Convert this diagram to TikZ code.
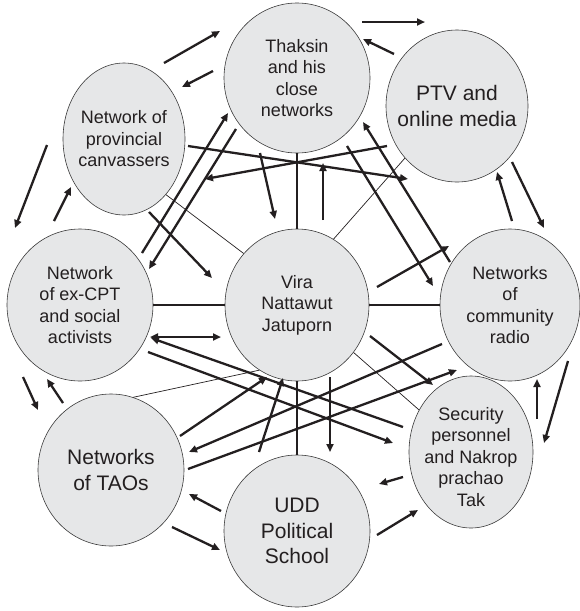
\documentclass[tikz,border=0pt]{standalone}
\usepackage{fontspec}
\setmainfont{Liberation Sans}
\usetikzlibrary{shapes.geometric,arrows.meta}
\definecolor{ink}{HTML}{231F20}
\definecolor{bub}{HTML}{E6E7E8}
\definecolor{rim}{HTML}{3A3A3A}
\begin{document}
\begin{tikzpicture}[x=1pt,y=-1pt,
  bubble/.style={ellipse,draw=rim,line width=0.6pt,fill=bub,inner sep=0pt},
  txt/.style={align=center,text=ink,font=\fontsize{18}{21.5}\selectfont},
  bigtxt/.style={align=center,text=ink,font=\fontsize{21}{25.5}\selectfont},
  link/.style={draw=ink,line width=2.8pt},
  fine/.style={draw=ink,line width=0.7pt},
  arr/.style={draw=ink,line width=2.3pt,-{Triangle[length=8pt,width=7pt]}},
  darr/.style={draw=ink,line width=2.3pt,{Triangle[length=8pt,width=7pt]}-{Triangle[length=8pt,width=7pt]}},
]
\useasboundingbox (0,0) rectangle (580,611);

% nodes
\node[bubble,minimum width=146pt,minimum height=150pt,label={[txt]center:{Thaksin\\and his\\close\\networks}}] (th) at (297,78) {};
\node[bubble,minimum width=142pt,minimum height=152pt,label={[bigtxt]center:{PTV and\\online media}}] (ptv) at (457,106) {};
\node[bubble,minimum width=122pt,minimum height=152pt,label={[txt]center:{Network of\\provincial\\canvassers}}] (cv) at (124,139) {};
\node[bubble,minimum width=146pt,minimum height=152pt,label={[txt]center:{Network\\of ex-CPT\\and social\\activists}}] (cpt) at (80,305) {};
\node[bubble,minimum width=144pt,minimum height=152pt,label={[txt]center:{Vira\\Nattawut\\Jatuporn}}] (vira) at (297,305) {};
\node[bubble,minimum width=140pt,minimum height=152pt,label={[txt]center:{Networks\\of\\community\\radio}}] (cr) at (510,305) {};
\node[bubble,minimum width=146pt,minimum height=152pt,label={[bigtxt]center:{Networks\\of TAOs}}] (tao) at (111,470) {};
\node[bubble,minimum width=146pt,minimum height=152pt,label={[bigtxt]center:{UDD\\Political\\School}}] (udd) at (297,531) {};
\node[bubble,minimum width=124pt,minimum height=152pt,label={[txt,yshift=-5pt]center:{Security\\personnel\\and Nakrop\\prachao\\Tak}}] (sec) at (471,452) {};

% undirected links
\draw[link] (th.south) -- (vira.north);
\draw[link] (cpt.east) -- (vira.west);
\draw[link] (vira.east) -- (cr.west);
\draw[link] (vira.south) -- (udd.north);
\draw[fine] (cv.-53.6) -- (vira.136);
\draw[fine] (ptv.225.5) -- (vira.61.7);
\draw[fine] (tao.73.9) -- (vira.240.4);
\draw[fine] (vira.-40.6) -- (sec.141.6);

% free arrow ends
\coordinate (p1s) at (164,63);   \coordinate (p1e) at (220,31);
\coordinate (p2s) at (213,71);   \coordinate (p2e) at (182,87);
\coordinate (p3s) at (362,22);   \coordinate (p3e) at (425,22);
\coordinate (p4s) at (394,54);   \coordinate (p4e) at (363,39);
\coordinate (p5s) at (512,162);  \coordinate (p5e) at (544,228);
\coordinate (p6s) at (512,221);  \coordinate (p6e) at (497,172);
\coordinate (p7s) at (47,145);   \coordinate (p7e) at (15,228);
\coordinate (p8s) at (54,221);   \coordinate (p8e) at (71,187);
\coordinate (p9s) at (23,377);   \coordinate (p9e) at (38,410);
\coordinate (p10s) at (63,403);  \coordinate (p10e) at (47,379);
\coordinate (p11s) at (221,511); \coordinate (p11e) at (189,494);
\coordinate (p12s) at (172,527); \coordinate (p12e) at (220,550);
\coordinate (p13s) at (568,361); \coordinate (p13e) at (544,443);
\coordinate (p14s) at (537,419); \coordinate (p14e) at (537,379);
\coordinate (p15s) at (403,477); \coordinate (p15e) at (379,484);
\coordinate (p16s) at (377,535); \coordinate (p16e) at (418,510);
\coordinate (p17s) at (188,146); \coordinate (p17e) at (408,179);
\coordinate (p18s) at (387,146); \coordinate (p18e) at (205,179);
\coordinate (p19s) at (260,153); \coordinate (p19e) at (275,219);
\coordinate (p20s) at (323,220); \coordinate (p20e) at (323,163);
\coordinate (p21s) at (142,253); \coordinate (p21e) at (228,113);
\coordinate (p22s) at (236,129); \coordinate (p22e) at (149,269);
\coordinate (p23s) at (149,212); \coordinate (p23e) at (212,278);
\coordinate (p24s) at (347,146); \coordinate (p24e) at (433,286);
\coordinate (p25s) at (450,262); \coordinate (p25e) at (363,122);
\coordinate (p26s) at (377,287); \coordinate (p26e) at (449,246);
\coordinate (p27s) at (150,337); \coordinate (p27e) at (221,337);
\coordinate (p28s) at (403,427); \coordinate (p28e) at (151,338);
\coordinate (p29s) at (148,352); \coordinate (p29e) at (393,443);
\coordinate (p30s) at (370,336); \coordinate (p30e) at (433,385);
\coordinate (p31s) at (442,344); \coordinate (p31e) at (189,452);
\coordinate (p32s) at (188,469); \coordinate (p32e) at (457,370);
\coordinate (p33s) at (330,377); \coordinate (p33e) at (330,452);
\coordinate (p34s) at (180,436); \coordinate (p34e) at (267,377);
\coordinate (p35s) at (259,452); \coordinate (p35e) at (283,378);

% arrows
\foreach \i in {1,...,26,28,29,30,31,32,33,34,35}{
  \draw[arr] (p\i s) -- (p\i e);
}
\draw[darr] (p27s) -- (p27e);
\end{tikzpicture}
\end{document}
